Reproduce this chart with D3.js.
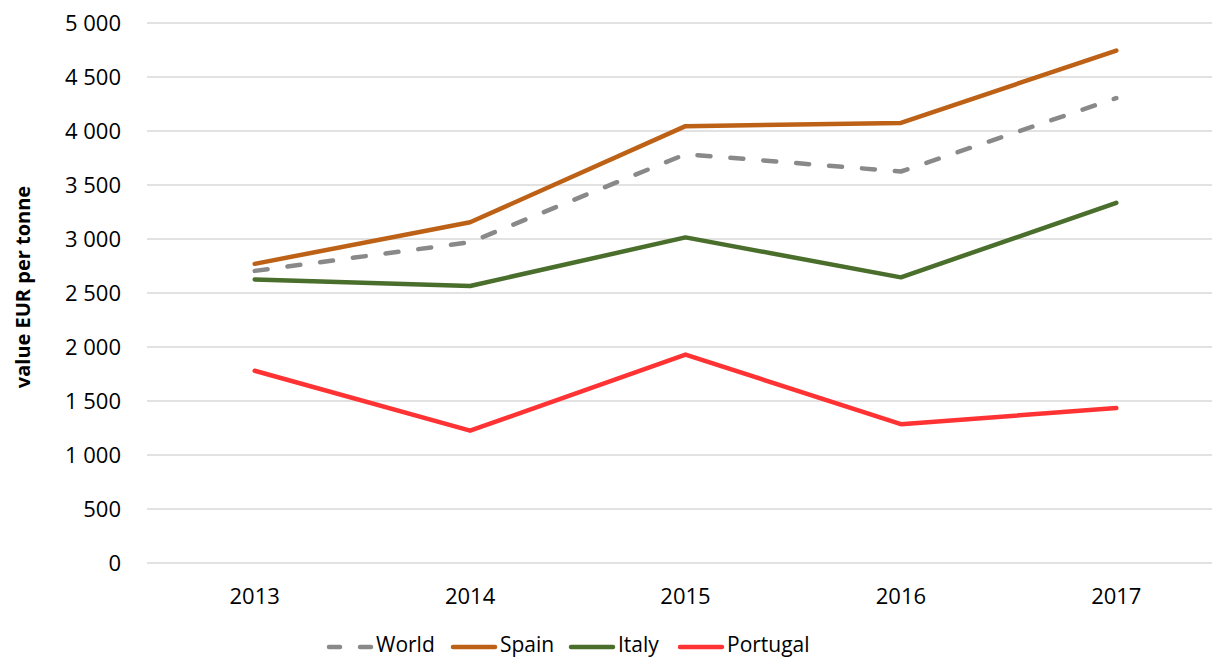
<!DOCTYPE html>
<html>
<head>
<meta charset="utf-8">
<script src="https://cdn.jsdelivr.net/npm/d3@7"></script>
<style>
  body { margin:0; background:#fff; }
  svg text { font-family: "Open Sans", "Liberation Sans", sans-serif; fill:#000; }
</style>
</head>
<body>
<div class="canvas"></div>
<script>
// data
var years = ['2013','2014','2015','2016','2017'];
var world    = [2705, 2970, 3785, 3625, 4305];
var spain    = [2770, 3155, 4045, 4075, 4745];
var italy    = [2625, 2565, 3015, 2645, 3335];
var portugal = [1780, 1225, 1930, 1285, 1435];
var yTicks = [0,500,1000,1500,2000,2500,3000,3500,4000,4500,5000];

var series = [
  {name:'World',    values:world,    color:'#898989', dash:'13,20'},
  {name:'Spain',    values:spain,    color:'#BD6116', dash:null},
  {name:'Italy',    values:italy,    color:'#4A6E2B', dash:null},
  {name:'Portugal', values:portugal, color:'#FF3334', dash:null}
];

var W = 1212, H = 658;
var margin = {t:23, l:147, b:95, r:-12};

var svg = d3.select('.canvas')
  .append('svg')
  .attr('width', W)
  .attr('height', H);

var x = d3.scaleBand().domain(years).range([margin.l, W - margin.r]);
var y = d3.scaleLinear().domain([0,5000]).range([H - margin.b, margin.t]);
var fmt = function(v){ return d3.format(',')(v).replace(/,/g,' '); };

// gridlines
svg.append('g').selectAll('line')
  .data(yTicks)
  .enter().append('line')
  .attr('x1', margin.l)
  .attr('x2', W)
  .attr('y1', function(d){ return y(d); })
  .attr('y2', function(d){ return y(d); })
  .attr('stroke', '#d9d9d9')
  .attr('stroke-width', 1.5);

// y tick labels
svg.append('g').selectAll('text')
  .data(yTicks)
  .enter().append('text')
  .attr('x', 121)
  .attr('y', function(d){ return y(d); })
  .attr('dy', '0.35em')
  .attr('text-anchor', 'end')
  .attr('font-size', '22px')
  .text(fmt);

// x labels
svg.append('g').selectAll('text')
  .data(years)
  .enter().append('text')
  .attr('x', function(d){ return x(d) + x.bandwidth()/2; })
  .attr('y', 604)
  .attr('text-anchor', 'middle')
  .attr('font-size', '22px')
  .text(function(d){ return d; });

// y title
svg.append('text')
  .attr('transform', 'translate(30,' + 287 + ') rotate(-90)')
  .attr('text-anchor', 'middle')
  .attr('font-size', '20px')
  .attr('font-weight', 'bold')
  .text('value EUR per tonne');

// lines
var line = d3.line()
  .x(function(d,i){ return x(years[i]) + x.bandwidth()/2; })
  .y(function(d){ return y(d); });

svg.append('g').selectAll('path')
  .data(series)
  .enter().append('path')
  .attr('d', function(d){ return line(d.values); })
  .attr('fill', 'none')
  .attr('stroke', function(d){ return d.color; })
  .attr('stroke-width', 4.5)
  .attr('stroke-linejoin', 'round')
  .attr('stroke-linecap', 'round')
  .attr('stroke-dasharray', function(d){ return d.dash; });

// legend
var legendX = [329, 453, 571, 680];
var lg = svg.append('g');
var ly = 647;
series.forEach(function(s, i){
  var lx = legendX[i];
  lg.append('line')
    .attr('x1', lx).attr('x2', lx + 42)
    .attr('y1', ly).attr('y2', ly)
    .attr('stroke', s.color)
    .attr('stroke-width', 4.5)
    .attr('stroke-linecap', 'round')
    .attr('stroke-dasharray', s.dash ? '11,20' : null);
  lg.append('text')
    .attr('x', lx + 47)
    .attr('y', 652)
    .attr('font-size', '21px')
    .text(s.name);
});
</script>
</body>
</html>
